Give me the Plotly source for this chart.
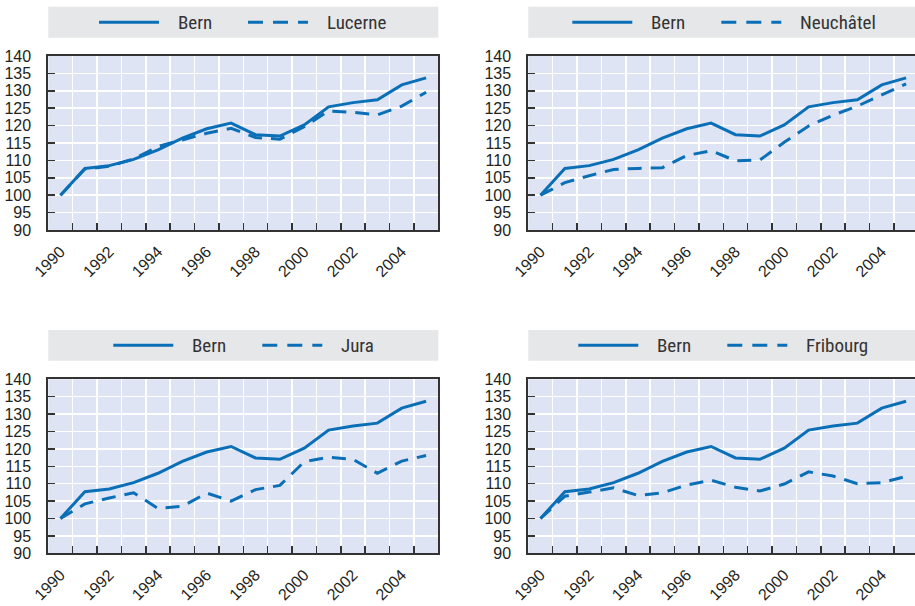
import plotly.graph_objects as go

# ---------------- data ----------------
years = list(range(1990, 2006))
bern = [100.0, 107.7, 108.5, 110.3, 113.0, 116.4, 119.1, 120.7, 117.4, 117.0,
        120.2, 125.4, 126.6, 127.4, 131.7, 133.7]
lucerne = [100.0, 107.5, 108.3, 110.4, 114.0, 115.9, 117.8, 119.2, 116.6, 116.1,
           119.7, 124.2, 123.8, 123.1, 125.6, 129.6]
neuchatel = [100.0, 103.6, 105.6, 107.4, 107.7, 107.9, 111.4, 112.8, 109.9, 110.1,
             115.2, 119.9, 123.0, 125.6, 128.8, 132.0]
jura = [100.0, 104.2, 105.9, 107.4, 102.9, 103.5, 107.3, 105.0, 108.3, 109.5,
        116.3, 117.6, 117.0, 113.0, 116.5, 118.1]
fribourg = [100.0, 106.4, 107.6, 108.8, 106.6, 107.4, 109.6, 111.0, 109.0, 107.9,
            109.9, 113.4, 112.2, 110.0, 110.3, 112.1]

x_tick_vals = [1990, 1992, 1994, 1996, 1998, 2000, 2002, 2004]
x_tick_labels = ["1990", "1992", "1994", "1996", "1998", "2000", "2002", "2004"]
y_tick_vals = [90, 95, 100, 105, 110, 115, 120, 125, 130, 135, 140]
y_tick_labels = ["90", "95", "100", "105", "110", "115", "120", "125", "130", "135", "140"]

panels = [
    ("Lucerne", lucerne),
    ("Neuchâtel", neuchatel),
    ("Jura", jura),
    ("Fribourg", fribourg),
]

# ---------------- style / geometry ----------------
W, H = 915, 606
BLUE = "#0a6fb7"
TEXT = "#231f20"
PLOT_BG = "#dee4f3"
BAND = "#e6e7e9"
FRAME = "#333333"
TICK_FONT = dict(family="Liberation Sans, Arial, sans-serif", size=16, color=TEXT)
LEG_FONT = dict(family="Liberation Sans Narrow, Arial Narrow, Roboto Condensed, DejaVu Sans Condensed, sans-serif",
                size=19, color="#333333")

BIN = 24.375          # px per year
PW = 16 * BIN         # full plot width in px
col_x0 = [48.3, 528.3]
row_y = [(56.0, 230.0), (379.3, 553.3)]
band_y = [(6.7, 37.7), (330.0, 360.7)]
legend_x0 = [99.0, 572.3, 113.3, 578.3]


def px(x):
    return x / W


def py(y):
    return 1 - y / H


fig = go.Figure()
shapes = []
annotations = []

for i, (name, series) in enumerate(panels):
    r, c = divmod(i, 2)
    ax = "" if i == 0 else str(i + 1)
    x0 = col_x0[c]
    x1 = min(x0 + PW, W)
    xr_end = 1989.5 + (x1 - x0) / BIN
    ytop, ybot = row_y[r]

    fig.add_trace(go.Scatter(
        x=years, y=bern, mode="lines", name="Bern", showlegend=False,
        line=dict(color=BLUE, width=3), xaxis="x" + ax, yaxis="y" + ax))
    fig.add_trace(go.Scatter(
        x=years, y=series, mode="lines", name=name, showlegend=False,
        line=dict(color=BLUE, width=3, dash="14px,9px"), xaxis="x" + ax, yaxis="y" + ax))

    fig.layout["xaxis" + ax] = dict(
        domain=[px(x0), px(x1)], anchor="y" + ax, range=[1989.5, xr_end],
        tickmode="array", tickvals=x_tick_vals, ticktext=x_tick_labels,
        tickangle=-45, tickfont=TICK_FONT, ticks="", showgrid=False,
        ticklabelstandoff=4, automargin=False,
        minor=dict(tickvals=[y + 0.5 for y in years[:-1]], ticks="inside", ticklen=7,
                   tickwidth=1.5, tickcolor=FRAME, showgrid=True, gridcolor="white",
                   gridwidth=1.5),
        showline=True, linecolor=FRAME, linewidth=2, mirror=True, zeroline=False,
        fixedrange=True)
    fig.layout["yaxis" + ax] = dict(
        domain=[py(ybot), py(ytop)], anchor="x" + ax, range=[90, 140],
        tickmode="array", tickvals=y_tick_vals, ticktext=y_tick_labels,
        tickfont=TICK_FONT, ticks="inside", ticklen=7, tickwidth=1.5, tickcolor=FRAME,
        showgrid=True, gridcolor="white", gridwidth=1.5, ticklabelstandoff=12,
        automargin=False,
        showline=True, linecolor=FRAME, linewidth=2, mirror=(c == 0), zeroline=False,
        fixedrange=True)

    # legend band
    by0, by1 = band_y[r]
    shapes.append(dict(type="rect", xref="paper", yref="paper",
                       x0=px(x0), x1=px(x1), y0=py(by1), y1=py(by0),
                       fillcolor=BAND, line=dict(width=0), layer="below"))
    ly = (by0 + by1) / 2
    lx = legend_x0[i]
    shapes.append(dict(type="line", xref="paper", yref="paper",
                       x0=px(lx), x1=px(lx + 60), y0=py(ly), y1=py(ly),
                       line=dict(color=BLUE, width=3)))
    shapes.append(dict(type="line", xref="paper", yref="paper",
                       x0=px(lx + 149), x1=px(lx + 209), y0=py(ly), y1=py(ly),
                       line=dict(color=BLUE, width=3, dash="15px,10px")))
    annotations.append(dict(text="Bern", xref="paper", yref="paper", x=px(lx + 77), y=py(ly),
                            xanchor="left", yanchor="middle", showarrow=False, font=LEG_FONT))
    annotations.append(dict(text=name, xref="paper", yref="paper", x=px(lx + 226), y=py(ly),
                            xanchor="left", yanchor="middle", showarrow=False, font=LEG_FONT))

fig.update_layout(
    width=W, height=H, autosize=False,
    margin=dict(l=0, r=0, t=0, b=0),
    paper_bgcolor="white", plot_bgcolor=PLOT_BG,
    showlegend=False, shapes=shapes, annotations=annotations,
)

fig.write_html(
    "out.html",
    config={"displayModeBar": False, "staticPlot": True},
    post_script="document.body.style.margin='0';document.body.style.overflow='hidden';",
)
